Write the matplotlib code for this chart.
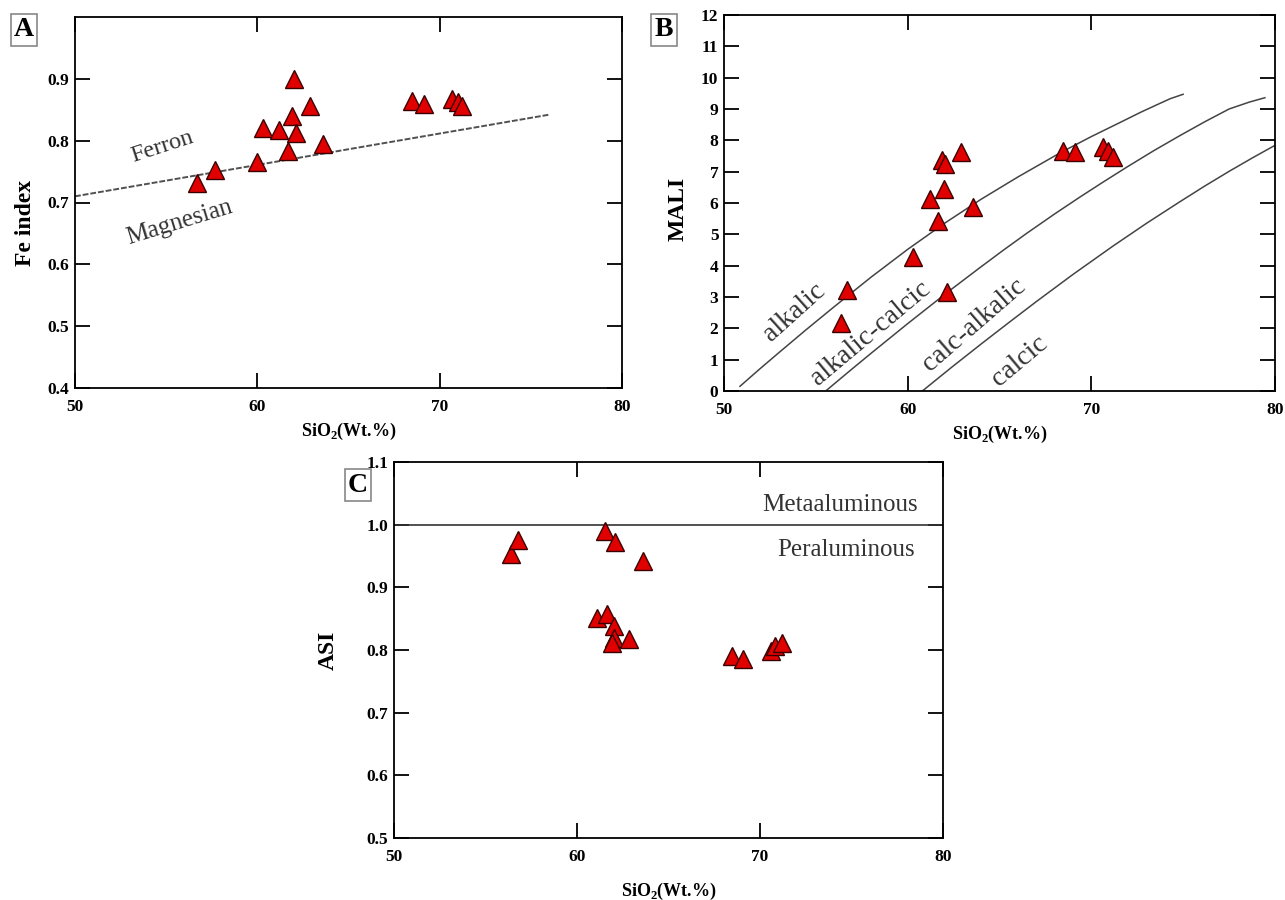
import matplotlib
matplotlib.use("Agg")
import matplotlib.pyplot as plt

plt.rcParams['font.family'] = 'Liberation Serif'
plt.rcParams['mathtext.fontset'] = 'custom'
plt.rcParams['mathtext.rm'] = 'Liberation Serif:bold'
plt.rcParams['mathtext.bf'] = 'Liberation Serif:bold'

# --- samples: SiO2 vs Fe index (A)
sio2_fe = [56.7, 57.7, 60.0, 60.3, 61.2, 62.0, 61.9, 62.1, 61.7, 62.9, 63.6,
           68.5, 69.15, 70.7, 71.0, 71.25]
fe_index = [0.732, 0.752, 0.765, 0.820, 0.817, 0.900, 0.840, 0.812, 0.784, 0.856, 0.794,
            0.864, 0.859, 0.868, 0.862, 0.856]

# --- samples: SiO2 vs MALI (B)
sio2_mali = [56.35, 56.68, 60.31, 61.21, 61.67, 61.88, 62.04, 62.0, 62.12, 62.89, 63.57,
             68.47, 69.11, 70.65, 70.9, 71.19]
mali = [2.18, 3.22, 4.29, 6.13, 5.44, 7.36, 7.23, 6.45, 3.17, 7.63, 5.88,
        7.67, 7.64, 7.78, 7.65, 7.48]

# --- samples: SiO2 vs ASI (C)
sio2_asi = [56.41, 56.76, 61.51, 62.07, 63.59, 61.10, 61.66, 62.02, 62.0, 61.9, 62.85,
            68.46, 69.07, 70.61, 70.8, 71.22]
asi = [0.953, 0.975, 0.990, 0.972, 0.942, 0.851, 0.857, 0.838, 0.819, 0.811, 0.817,
       0.791, 0.785, 0.798, 0.806, 0.811]

# ferroan / magnesian divide
fe_line_x = [50, 76]
fe_line_y = [0.71, 0.842]

# MALI field boundaries
b1_x = [50.87, 51.9, 53.0, 54.5, 56.0, 58.0, 60.0, 62.0, 64.0, 66.0, 68.3, 70.0, 71.6, 72.7, 73.7, 74.3, 75.0]
b1_y = [0.15, 0.68, 1.23, 1.97, 2.69, 3.63, 4.52, 5.35, 6.12, 6.83, 7.6, 8.12, 8.58, 8.9, 9.17, 9.33, 9.47]
b2_x = [55.6, 56.8, 58.0, 60.0, 62.12, 63.94, 65.2, 66.5, 68.0, 69.38, 70.7, 72.0, 73.4, 74.82, 76.2, 77.5, 78.6, 79.45]
b2_y = [0.03, 0.62, 1.2, 2.15, 3.13, 3.94, 4.49, 5.04, 5.65, 6.19, 6.69, 7.17, 7.67, 8.15, 8.6, 9.0, 9.22, 9.36]
b3_x = [60.8, 62.4, 64.0, 65.5, 67.02, 69.0, 71.19, 73.0, 74.82, 76.2, 77.5, 78.8, 80.0]
b3_y = [0.0, 0.76, 1.5, 2.18, 2.86, 3.72, 4.63, 5.35, 6.04, 6.55, 7.01, 7.45, 7.84]

W, H = 1285, 900
fig = plt.figure(figsize=(W / 100, H / 100), dpi=100)


def box(l, t, r, b):
    return [l / W, 1 - b / H, (r - l) / W, (b - t) / H]


axA = fig.add_axes(box(75, 17, 622, 388))
axB = fig.add_axes(box(724, 15, 1275, 391))
axC = fig.add_axes(box(394, 462, 943, 838))

tri = dict(marker='^', ms=13, mfc='#e00000', mec='#3a0000', mew=1.0, ls='none', zorder=5)


def style(ax, ylabel, ylab_xy, xlabelpad):
    ax.tick_params(direction='in', length=11, width=1.3, top=True, right=True,
                   labelsize=12.5, pad=4)
    ax.tick_params(axis='x', pad=8)
    for lab in ax.get_xticklabels() + ax.get_yticklabels():
        lab.set_fontweight('bold')
    for s in ax.spines.values():
        s.set_linewidth(1.3)
    ax.set_ylabel(ylabel, fontsize=17, fontweight='bold')
    ax.yaxis.set_label_coords(*ylab_xy)
    ax.set_xlabel(r'SiO$_2$(Wt.%)', fontsize=13, fontweight='bold', labelpad=xlabelpad)


# A: Fe index
axA.plot(fe_line_x, fe_line_y, color='#505050', lw=1.4, ls=(0, (3, 1)))
axA.plot(sio2_fe, fe_index, **tri)
axA.set_xlim(50, 80)
axA.set_ylim(0.4, 1.0)
axA.set_xticks([50, 60, 70, 80])
axA.set_yticks([0.4, 0.5, 0.6, 0.7, 0.8, 0.9])
axA.set_yticklabels(['0.4', '0.5', '0.6', '0.7', '0.8', '0.9'])
axA.text(54.8, 0.79, 'Ferron', fontsize=17.5, rotation=18, ha='center', va='center', color='#333333')
axA.text(55.75, 0.667, 'Magnesian', fontsize=18, rotation=17, ha='center', va='center', color='#333333')
style(axA, 'Fe index', (-0.071, 0.445), 4)

# B: MALI
for bx, by in [(b1_x, b1_y), (b2_x, b2_y), (b3_x, b3_y)]:
    axB.plot(bx, by, color='#444444', lw=1.1, solid_joinstyle='round')
axB.plot(sio2_mali, mali, **tri)
axB.set_xlim(50, 80)
axB.set_ylim(0, 12)
axB.set_xticks([50, 60, 70, 80])
axB.set_yticks(range(0, 13))
axB.text(53.8, 2.5, 'alkalic', fontsize=20, rotation=42, ha='center', va='center', color='#333333')
axB.text(58.0, 1.85, 'alkalic-calcic', fontsize=20, rotation=40, ha='center', va='center', color='#333333')
axB.text(63.6, 2.1, 'calc-alkalic', fontsize=20, rotation=41, ha='center', va='center', color='#333333')
axB.text(66.1, 0.95, 'calcic', fontsize=20, rotation=40, ha='center', va='center', color='#333333')
style(axB, 'MALI', (-0.064, 0.484), 4)

# C: ASI
axC.axhline(1.0, color='#333333', lw=1.2)
axC.plot(sio2_asi, asi, **tri)
axC.set_xlim(50, 80)
axC.set_ylim(0.5, 1.1)
axC.set_xticks([50, 60, 70, 80])
axC.set_yticks([0.5, 0.6, 0.7, 0.8, 0.9, 1.0, 1.1])
axC.set_yticklabels(['0.5', '0.6', '0.7', '0.8', '0.9', '1.0', '1.1'])
axC.text(74.4, 1.032, 'Metaaluminous', fontsize=18, ha='center', va='center', color='#333333')
axC.text(74.7, 0.960, 'Peraluminous', fontsize=18, ha='center', va='center', color='#333333')
style(axC, 'ASI', (-0.1, 0.5), 11)

# panel letters
for letter, cx, cy in [('A', 24, 30), ('B', 664, 30), ('C', 358, 485)]:
    fig.text(cx / W, 1 - cy / H, letter, fontsize=20, fontweight='bold', ha='center', va='center',
             bbox=dict(boxstyle='square,pad=0.12', fc='white', ec='#888888', lw=1.2))

fig.savefig('out.png', dpi=100, facecolor='white')
